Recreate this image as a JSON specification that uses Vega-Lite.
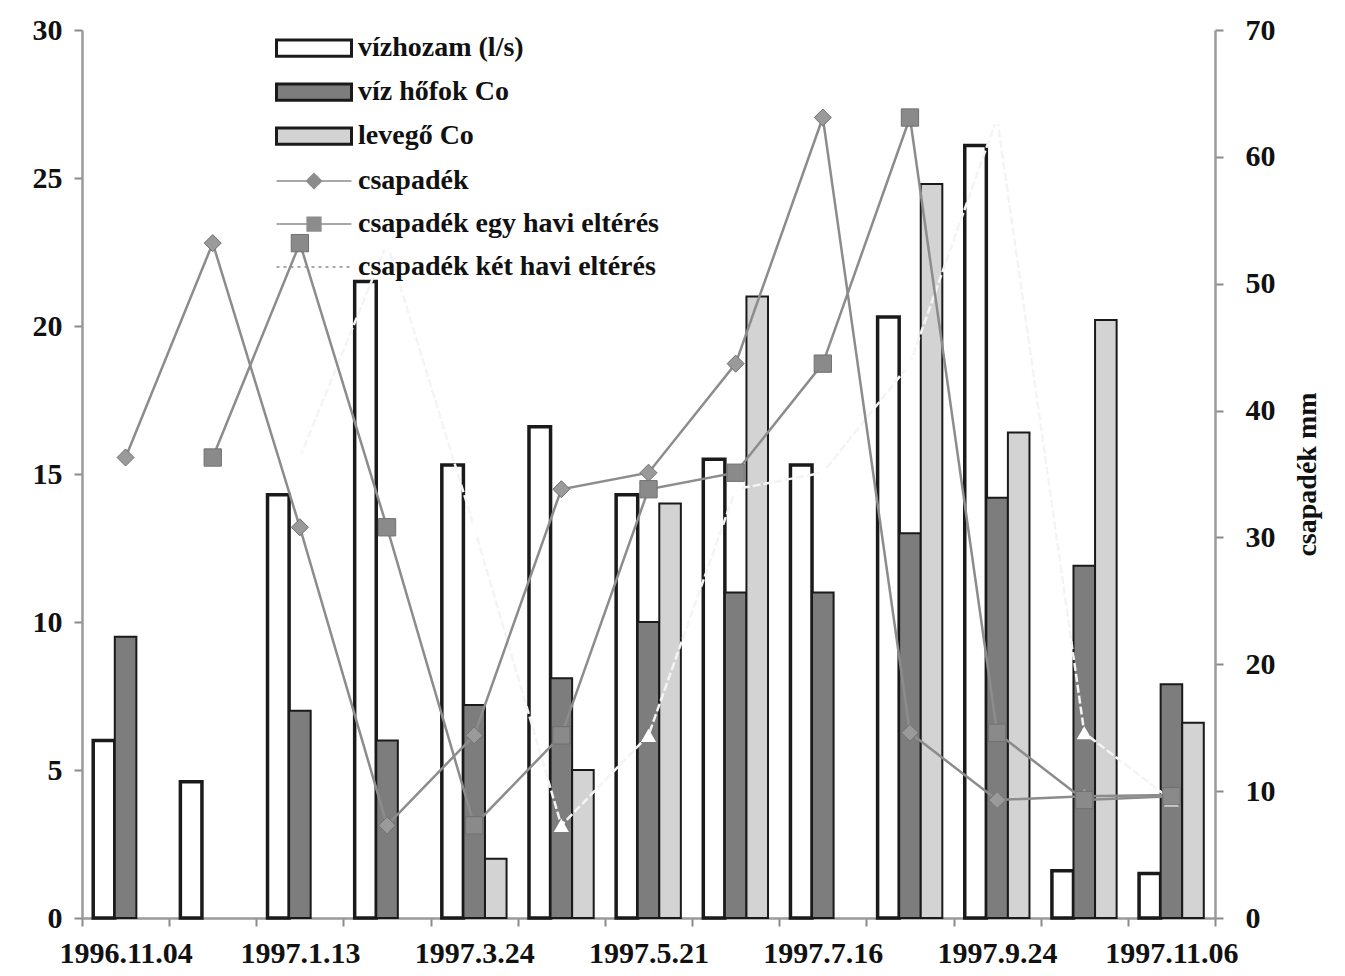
{
  "$schema": "https://vega.github.io/schema/vega-lite/v6.json",
  "width": 1133,
  "height": 888,
  "autosize": {"type": "none"},
  "padding": {"left": 82, "top": 30, "right": 130, "bottom": 58},
  "background": "white",
  "config": {
    "view": {"stroke": null},
    "axis": {
      "grid": false,
      "labelFont": "Liberation Serif",
      "labelFontSize": 30,
      "labelFontWeight": "bold",
      "labelColor": "#111",
      "domainColor": "#9a9a9a",
      "domainWidth": 2.5,
      "tickColor": "#8a8a8a",
      "tickWidth": 2,
      "tickSize": 8,
      "titleFont": "Liberation Serif",
      "titleFontSize": 28,
      "titleFontWeight": "bold",
      "titleColor": "#111"
    },
    "legend": {
      "title": null,
      "orient": "none",
      "padding": 0,
      "symbolSize": 625,
      "labelOffset": 55,
      "labelFont": "Liberation Serif",
      "labelFontSize": 28,
      "labelFontWeight": "bold",
      "labelColor": "#111",
      "labelLimit": 600
    }
  },
  "data": {
    "values": [
      {"date": "1996.11.04", "series": "vízhozam (l/s)", "kind": "bar", "value": 6.0},
      {"date": "1996.11.04", "series": "víz hőfok Co", "kind": "bar", "value": 9.5},
      {"date": "1996.12.09", "series": "vízhozam (l/s)", "kind": "bar", "value": 4.6},
      {"date": "1997.1.13", "series": "vízhozam (l/s)", "kind": "bar", "value": 14.3},
      {"date": "1997.1.13", "series": "víz hőfok Co", "kind": "bar", "value": 7.0},
      {"date": "1997.2.17", "series": "vízhozam (l/s)", "kind": "bar", "value": 21.5},
      {"date": "1997.2.17", "series": "víz hőfok Co", "kind": "bar", "value": 6.0},
      {"date": "1997.3.24", "series": "vízhozam (l/s)", "kind": "bar", "value": 15.3},
      {"date": "1997.3.24", "series": "víz hőfok Co", "kind": "bar", "value": 7.2},
      {"date": "1997.3.24", "series": "levegő Co", "kind": "bar", "value": 2.0},
      {"date": "1997.4.22", "series": "vízhozam (l/s)", "kind": "bar", "value": 16.6},
      {"date": "1997.4.22", "series": "víz hőfok Co", "kind": "bar", "value": 8.1},
      {"date": "1997.4.22", "series": "levegő Co", "kind": "bar", "value": 5.0},
      {"date": "1997.5.21", "series": "vízhozam (l/s)", "kind": "bar", "value": 14.3},
      {"date": "1997.5.21", "series": "víz hőfok Co", "kind": "bar", "value": 10.0},
      {"date": "1997.5.21", "series": "levegő Co", "kind": "bar", "value": 14.0},
      {"date": "1997.6.18", "series": "vízhozam (l/s)", "kind": "bar", "value": 15.5},
      {"date": "1997.6.18", "series": "víz hőfok Co", "kind": "bar", "value": 11.0},
      {"date": "1997.6.18", "series": "levegő Co", "kind": "bar", "value": 21.0},
      {"date": "1997.7.16", "series": "vízhozam (l/s)", "kind": "bar", "value": 15.3},
      {"date": "1997.7.16", "series": "víz hőfok Co", "kind": "bar", "value": 11.0},
      {"date": "1997.8.20", "series": "vízhozam (l/s)", "kind": "bar", "value": 20.3},
      {"date": "1997.8.20", "series": "víz hőfok Co", "kind": "bar", "value": 13.0},
      {"date": "1997.8.20", "series": "levegő Co", "kind": "bar", "value": 24.8},
      {"date": "1997.9.24", "series": "vízhozam (l/s)", "kind": "bar", "value": 26.1},
      {"date": "1997.9.24", "series": "víz hőfok Co", "kind": "bar", "value": 14.2},
      {"date": "1997.9.24", "series": "levegő Co", "kind": "bar", "value": 16.4},
      {"date": "1997.10.16", "series": "vízhozam (l/s)", "kind": "bar", "value": 1.6},
      {"date": "1997.10.16", "series": "víz hőfok Co", "kind": "bar", "value": 11.9},
      {"date": "1997.10.16", "series": "levegő Co", "kind": "bar", "value": 20.2},
      {"date": "1997.11.06", "series": "vízhozam (l/s)", "kind": "bar", "value": 1.5},
      {"date": "1997.11.06", "series": "víz hőfok Co", "kind": "bar", "value": 7.9},
      {"date": "1997.11.06", "series": "levegő Co", "kind": "bar", "value": 6.6},

      {"date": "1996.11.04", "series": "csapadék", "kind": "line", "value": 36.3},
      {"date": "1996.12.09", "series": "csapadék", "kind": "line", "value": 53.2},
      {"date": "1997.1.13", "series": "csapadék", "kind": "line", "value": 30.8},
      {"date": "1997.2.17", "series": "csapadék", "kind": "line", "value": 7.3},
      {"date": "1997.3.24", "series": "csapadék", "kind": "line", "value": 14.4},
      {"date": "1997.4.22", "series": "csapadék", "kind": "line", "value": 33.8},
      {"date": "1997.5.21", "series": "csapadék", "kind": "line", "value": 35.1},
      {"date": "1997.6.18", "series": "csapadék", "kind": "line", "value": 43.7},
      {"date": "1997.7.16", "series": "csapadék", "kind": "line", "value": 63.1},
      {"date": "1997.8.20", "series": "csapadék", "kind": "line", "value": 14.6},
      {"date": "1997.9.24", "series": "csapadék", "kind": "line", "value": 9.3},
      {"date": "1997.10.16", "series": "csapadék", "kind": "line", "value": 9.6},
      {"date": "1997.11.06", "series": "csapadék", "kind": "line", "value": 9.7},

      {"date": "1996.12.09", "series": "csapadék egy havi eltérés", "kind": "line", "value": 36.3},
      {"date": "1997.1.13", "series": "csapadék egy havi eltérés", "kind": "line", "value": 53.2},
      {"date": "1997.2.17", "series": "csapadék egy havi eltérés", "kind": "line", "value": 30.8},
      {"date": "1997.3.24", "series": "csapadék egy havi eltérés", "kind": "line", "value": 7.3},
      {"date": "1997.4.22", "series": "csapadék egy havi eltérés", "kind": "line", "value": 14.4},
      {"date": "1997.5.21", "series": "csapadék egy havi eltérés", "kind": "line", "value": 33.8},
      {"date": "1997.6.18", "series": "csapadék egy havi eltérés", "kind": "line", "value": 35.1},
      {"date": "1997.7.16", "series": "csapadék egy havi eltérés", "kind": "line", "value": 43.7},
      {"date": "1997.8.20", "series": "csapadék egy havi eltérés", "kind": "line", "value": 63.1},
      {"date": "1997.9.24", "series": "csapadék egy havi eltérés", "kind": "line", "value": 14.6},
      {"date": "1997.10.16", "series": "csapadék egy havi eltérés", "kind": "line", "value": 9.3},
      {"date": "1997.11.06", "series": "csapadék egy havi eltérés", "kind": "line", "value": 9.6},

      {"date": "1997.1.13", "series": "csapadék két havi eltérés", "kind": "line", "value": 36.3},
      {"date": "1997.2.17", "series": "csapadék két havi eltérés", "kind": "line", "value": 53.2},
      {"date": "1997.3.24", "series": "csapadék két havi eltérés", "kind": "line", "value": 30.8},
      {"date": "1997.4.22", "series": "csapadék két havi eltérés", "kind": "line", "value": 7.3},
      {"date": "1997.5.21", "series": "csapadék két havi eltérés", "kind": "line", "value": 14.4},
      {"date": "1997.6.18", "series": "csapadék két havi eltérés", "kind": "line", "value": 33.8},
      {"date": "1997.7.16", "series": "csapadék két havi eltérés", "kind": "line", "value": 35.1},
      {"date": "1997.8.20", "series": "csapadék két havi eltérés", "kind": "line", "value": 43.7},
      {"date": "1997.9.24", "series": "csapadék két havi eltérés", "kind": "line", "value": 63.1},
      {"date": "1997.10.16", "series": "csapadék két havi eltérés", "kind": "line", "value": 14.6},
      {"date": "1997.11.06", "series": "csapadék két havi eltérés", "kind": "line", "value": 9.3}
    ]
  },
  "encoding": {
    "x": {
      "field": "date",
      "type": "nominal",
      "sort": null,
      "scale": {
        "domain": ["1996.11.04", "1996.12.09", "1997.1.13", "1997.2.17", "1997.3.24", "1997.4.22", "1997.5.21", "1997.6.18", "1997.7.16", "1997.8.20", "1997.9.24", "1997.10.16", "1997.11.06"],
        "paddingInner": 0,
        "paddingOuter": 0
      },
      "axis": {
        "title": null,
        "labelAngle": 0,
        "tickBand": "extent",
        "labelPadding": 12,
        "labelExpr": "indexof(['1996.12.09','1997.2.17','1997.4.22','1997.6.18','1997.8.20','1997.10.16'], datum.value) >= 0 ? '' : datum.label"
      }
    }
  },
  "layer": [
    {
      "transform": [{"filter": "datum.kind === 'bar'"}],
      "mark": {"type": "bar", "stroke": "#1a1a1a"},
      "encoding": {
        "xOffset": {
          "field": "series",
          "type": "nominal",
          "scale": {"domain": ["vízhozam (l/s)", "víz hőfok Co", "levegő Co"], "paddingOuter": 0.52, "paddingInner": 0}
        },
        "y": {
          "field": "value",
          "type": "quantitative",
          "scale": {"domain": [0, 30], "nice": false},
          "axis": {"orient": "left", "title": null, "values": [0, 5, 10, 15, 20, 25, 30], "labelPadding": 12}
        },
        "strokeWidth": {"condition": {"test": "datum.series === 'vízhozam (l/s)'", "value": 3.5}, "value": 2},
        "fill": {
          "field": "series",
          "type": "nominal",
          "scale": {
            "domain": ["vízhozam (l/s)", "víz hőfok Co", "levegő Co"],
            "range": ["#ffffff", "#7d7d7d", "#d3d3d3"]
          },
          "legend": {
            "legendX": 193,
            "legendY": 4,
            "rowPadding": 14,
            "symbolType": "M-1,-0.65H5V0.65H-1Z",
            "symbolStrokeColor": "#1a1a1a",
            "symbolStrokeWidth": 3
          }
        }
      }
    },
    {
      "layer": [
        {
          "transform": [{"filter": "datum.series === 'csapadék két havi eltérés'"}],
          "mark": {"type": "line", "stroke": "#f4f4f4", "strokeWidth": 2.5, "strokeDash": [8, 3]},
          "encoding": {
            "y": {"field": "value", "type": "quantitative"}
          }
        },
        {
          "transform": [{"filter": "datum.series === 'csapadék két havi eltérés'"}],
          "mark": {"type": "point", "shape": "triangle-up", "filled": true, "fill": "#ffffff", "opacity": 1, "size": 230, "strokeWidth": 0},
          "encoding": {
            "y": {"field": "value", "type": "quantitative"}
          }
        },
        {
          "transform": [{"filter": "datum.series === 'csapadék' || datum.series === 'csapadék egy havi eltérés'"}],
          "mark": {"type": "line", "stroke": "#8c8c8c", "strokeWidth": 2.5},
          "encoding": {
            "y": {"field": "value", "type": "quantitative"},
            "detail": {"field": "series"}
          }
        },
        {
          "transform": [{"filter": "datum.series === 'csapadék'"}],
          "mark": {"type": "point", "shape": "diamond", "filled": true, "fill": "#9a9a9a", "opacity": 1, "size": 290, "stroke": "#707070", "strokeWidth": 1},
          "encoding": {
            "y": {"field": "value", "type": "quantitative"}
          }
        },
        {
          "transform": [{"filter": "datum.series === 'csapadék egy havi eltérés'"}],
          "mark": {"type": "point", "shape": "square", "filled": true, "fill": "#8a8a8a", "opacity": 1, "size": 300, "stroke": "#707070", "strokeWidth": 1},
          "encoding": {
            "y": {
              "field": "value",
              "type": "quantitative",
              "scale": {"domain": [0, 70], "nice": false},
              "axis": {"orient": "right", "title": "csapadék mm", "titleAngle": -90, "titleBaseline": "top", "titlePadding": 18, "values": [0, 10, 20, 30, 40, 50, 60, 70], "labelPadding": 22}
            }
          }
        },
        {
          "transform": [{"filter": "datum.kind === 'line'"}],
          "mark": {"type": "point", "filled": true, "fill": "#8c8c8c", "stroke": "#8c8c8c", "strokeWidth": 2.5, "size": 0, "opacity": 1},
          "encoding": {
            "y": {"field": "value", "type": "quantitative"},
            "shape": {
              "field": "series",
              "type": "nominal",
              "scale": {
                "domain": ["csapadék", "csapadék egy havi eltérés", "csapadék két havi eltérés"],
                "range": ["M-1,0H1.4M2.6,0H5M2,-0.6L2.6,0L2,0.6L1.4,0Z", "M-1,0H1.4M2.6,0H5M1.45,-0.55H2.55V0.55H1.45Z", "M-1,0H5"]
              },
              "legend": {"legendX": 193, "legendY": 137, "rowPadding": 15}
            },
            "strokeDash": {
              "field": "series",
              "type": "nominal",
              "scale": {
                "domain": ["csapadék", "csapadék egy havi eltérés", "csapadék két havi eltérés"],
                "range": [[1, 0], [1, 0], [3, 4]]
              },
              "legend": {"legendX": 193, "legendY": 137, "rowPadding": 15}
            }
          }
        }
      ]
    }
  ],
  "resolve": {"scale": {"y": "independent"}}
}
